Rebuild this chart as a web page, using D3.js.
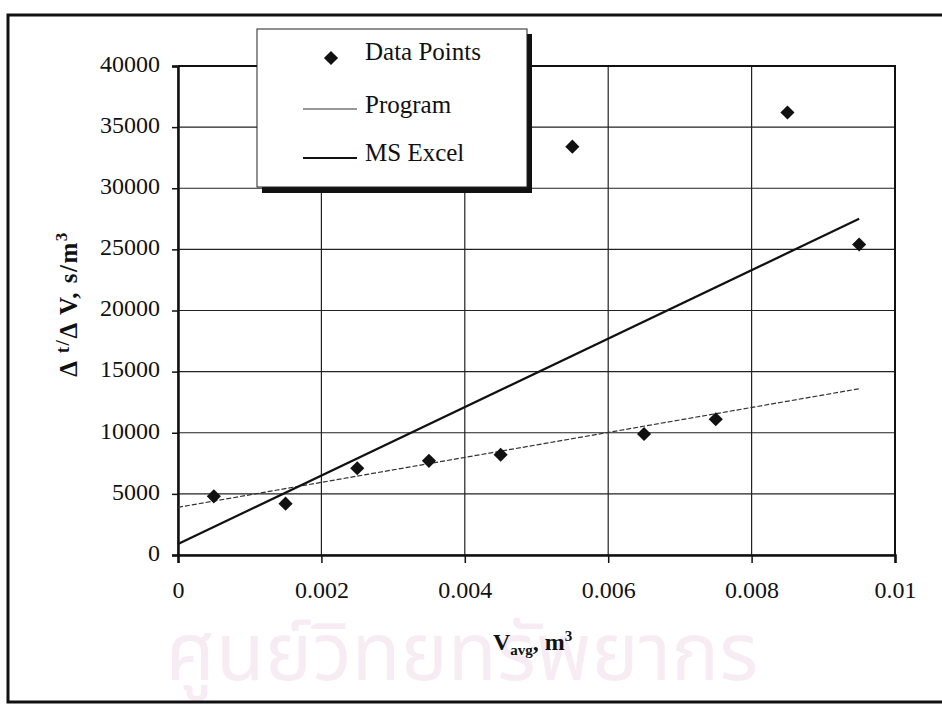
<!DOCTYPE html>
<html>
<head>
<meta charset="utf-8">
<script src="https://cdn.jsdelivr.net/npm/d3@7/dist/d3.min.js"></script>
<style>
  body { margin: 0; background: #fff; }
  svg text { font-family: "Liberation Serif", "Times New Roman", serif; fill: #111; }
</style>
</head>
<body>
<svg id="chart" width="942" height="706"></svg>
<script>
// values
const volumes = [0.0005, 0.0015, 0.0025, 0.0035, 0.0045, 0.0055, 0.0065, 0.0075, 0.0085, 0.0095];
const ratios = [4800, 4200, 7100, 7700, 8200, 33400, 9900, 11100, 36200, 25400];
const programFit = [[0, 3900], [0.0095, 13600]];
const excelFit = [[0, 900], [0.0095, 27500]];
const xTicks = [0, 0.002, 0.004, 0.006, 0.008, 0.01];
const xTickLabels = ["0", "0.002", "0.004", "0.006", "0.008", "0.01"];
const yTicks = [0, 5000, 10000, 15000, 20000, 25000, 30000, 35000, 40000];
const legendLabels = ["Data Points", "Program", "MS Excel"];

const svg = d3.select("#chart");

const x = d3.scaleLinear().domain([0, 0.01]).range([178, 895]);
const y = d3.scaleLinear().domain([0, 40000]).range([555, 66]);

// faint watermark text at the bottom
svg.append("text")
  .attr("x", 462)
  .attr("y", 680)
  .attr("text-anchor", "middle")
  .style("font-family", "'Noto Sans Thai', 'Noto Sans', sans-serif")
  .style("font-size", "80px")
  .style("fill", "#f8ecf4")
  .text("ศูนย์วิทยทรัพยากร");

// outer frame
svg.append("rect")
  .attr("x", 8).attr("y", 15)
  .attr("width", 960).attr("height", 687)
  .attr("fill", "none")
  .attr("stroke", "#111")
  .attr("stroke-width", 3);

// grid
const grid = svg.append("g").attr("stroke", "#222").attr("stroke-width", 1.2);
grid.selectAll(".h").data(yTicks).enter().append("line")
  .attr("x1", x(0)).attr("x2", x(0.01))
  .attr("y1", d => y(d)).attr("y2", d => y(d));
grid.selectAll(".v").data(xTicks).enter().append("line")
  .attr("y1", y(0)).attr("y2", y(40000))
  .attr("x1", d => x(d)).attr("x2", d => x(d));

// axes
const yAxis = svg.append("g")
  .attr("transform", `translate(${x(0)},0)`)
  .call(d3.axisLeft(y).tickValues(yTicks).tickSize(6).tickPadding(12).tickFormat(d3.format("d")));
yAxis.selectAll("text").attr("dy", "0.22em").style("font-size", "24px");

const xAxis = svg.append("g")
  .attr("transform", `translate(0,${y(0)})`)
  .call(d3.axisBottom(x).tickValues(xTicks).tickSize(8).tickFormat((d, i) => xTickLabels[i]));
xAxis.selectAll("text").attr("y", 43).attr("dy", 0).style("font-size", "24px");

[yAxis, xAxis].forEach(a => {
  a.select(".domain").attr("stroke", "#111").attr("stroke-width", 2.5);
  a.selectAll(".tick line").attr("stroke", "#111").attr("stroke-width", 1.5);
  a.selectAll("text").attr("fill", "#111").style("font-family", "'Liberation Serif', serif");
});

// right and top edge of plot area
svg.append("path")
  .attr("d", `M${x(0)},${y(40000)}H${x(0.01)}V${y(0)}`)
  .attr("fill", "none").attr("stroke", "#111").attr("stroke-width", 2);

const line = d3.line().x(d => x(d[0])).y(d => y(d[1]));

svg.append("path")
  .datum(programFit)
  .attr("d", line)
  .attr("fill", "none")
  .attr("stroke", "#333")
  .attr("stroke-width", 1.2)
  .attr("stroke-dasharray", "5,2");

svg.append("path")
  .datum(excelFit)
  .attr("d", line)
  .attr("fill", "none")
  .attr("stroke", "#111")
  .attr("stroke-width", 2.2);

const diamond = d3.symbol().type(d3.symbolSquare).size(100);

svg.selectAll(".pt").data(volumes).enter().append("path")
  .attr("class", "pt")
  .attr("d", diamond)
  .attr("transform", (d, i) => `translate(${x(d)},${y(ratios[i])}) rotate(45)`)
  .attr("fill", "#111");

// legend box with drop shadow
const legend = svg.append("g");
legend.append("rect")
  .attr("x", 262).attr("y", 34).attr("width", 270).attr("height", 159)
  .attr("fill", "#111");
legend.append("rect")
  .attr("x", 257).attr("y", 29).attr("width", 270).attr("height", 158)
  .attr("fill", "#fff").attr("stroke", "#222").attr("stroke-width", 1);

legend.selectAll(".lab").data(legendLabels).enter().append("text")
  .attr("x", 365)
  .attr("y", (d, i) => [60, 113, 161][i])
  .style("font-size", "25px")
  .text(d => d);

legend.append("path")
  .attr("d", diamond)
  .attr("transform", "translate(331,58) rotate(45)")
  .attr("fill", "#111");
legend.append("line")
  .attr("x1", 303).attr("x2", 357).attr("y1", 109).attr("y2", 109)
  .attr("stroke", "#333").attr("stroke-width", 1.2);
legend.append("line")
  .attr("x1", 303).attr("x2", 357).attr("y1", 158).attr("y2", 158)
  .attr("stroke", "#111").attr("stroke-width", 2.2);

// axis titles
const yTitle = svg.append("text")
  .attr("transform", "translate(77,304) rotate(-90)")
  .attr("text-anchor", "middle")
  .style("font-size", "25px")
  .style("letter-spacing", "1.5px")
  .style("font-weight", "bold");
yTitle.append("tspan").text("Δ ");
yTitle.append("tspan").attr("dy", -8).style("font-size", "19px").text("t/");
yTitle.append("tspan").attr("dy", 8).text("Δ V, s/m");
yTitle.append("tspan").attr("dy", -10).style("font-size", "17px").text("3");

const xTitle = svg.append("text")
  .attr("x", 493).attr("y", 650)
  .style("font-size", "24px")
  .style("font-weight", "bold");
xTitle.append("tspan").text("V");
xTitle.append("tspan").attr("dy", 5).style("font-size", "15px").text("avg");
xTitle.append("tspan").attr("dy", -5).text(", m");
xTitle.append("tspan").attr("dy", -9).style("font-size", "15px").text("3");
</script>
</body>
</html>
